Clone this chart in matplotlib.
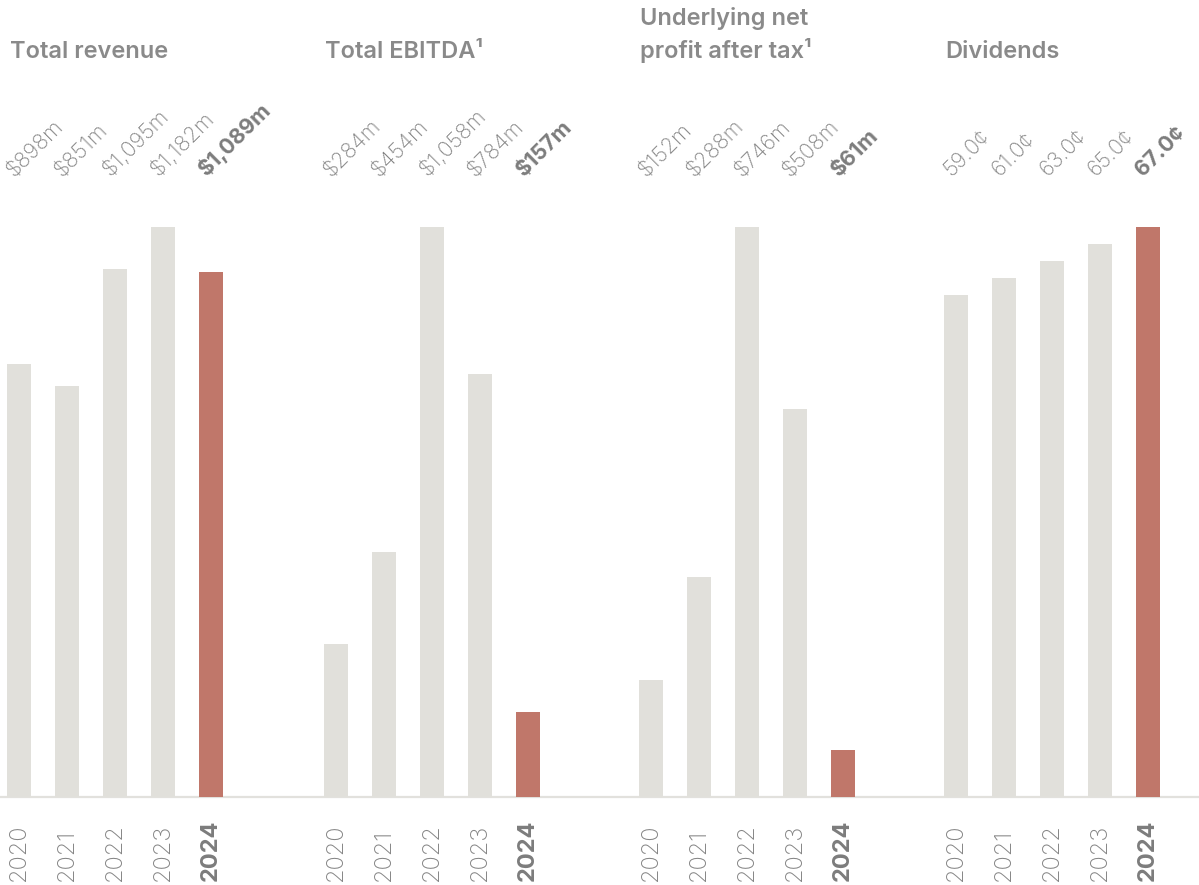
import matplotlib
matplotlib.use("Agg")
import matplotlib.pyplot as plt
from matplotlib.lines import Line2D
from matplotlib.transforms import blended_transform_factory

# data
years = ["2020", "2021", "2022", "2023", "2024"]

revenue = [898, 851, 1095, 1182, 1089]
ebitda = [284, 454, 1058, 784, 157]
npat = [152, 288, 746, 508, 61]
dividends = [59.0, 61.0, 63.0, 65.0, 67.0]

titles = [
    "Total revenue",
    "Total EBITDA¹",
    "Underlying net\nprofit after tax¹",
    "Dividends",
]

revenue_labels = ["$%sm" % f"{v:,}" for v in revenue]
ebitda_labels = ["$%sm" % f"{v:,}" for v in ebitda]
npat_labels = ["$%sm" % f"{v:,}" for v in npat]
dividend_labels = [f"{v:.1f}¢" for v in dividends]

# styling
grey_bar = "#e1e0db"
red_bar = "#c0776a"
text_grey = "#858585"
bold_grey = "#7c7c7c"
fonts = ["Inter", "DejaVu Sans"]

W, H = 1199, 885
fig = plt.figure(figsize=(W / 100, H / 100), dpi=100)
fig.patch.set_facecolor("white")

# baseline across the whole page
base_y = 1 - 796.5 / H
fig.add_artist(Line2D([0, 1], [base_y, base_y], transform=fig.transFigure,
                      color="#e2e1dd", lw=1.6, zorder=0))

panels = [
    (19, revenue, revenue_labels, titles[0], 10),
    (336, ebitda, ebitda_labels, titles[1], 325),
    (651, npat, npat_labels, titles[2], 640),
    (956, dividends, dividend_labels, titles[3], 945),
]

for c0, vals, labels, title, tx in panels:
    left = (c0 - 24) / W
    ax = fig.add_axes([left, (H - 796.5) / H, 240 / W, 569.5 / H])
    ax.set_xlim(-0.5, 4.5)
    ax.set_ylim(0, max(vals))
    ax.axis("off")

    colors = [grey_bar] * 4 + [red_bar]
    ax.bar(range(5), vals, width=0.5, color=colors, zorder=2)

    trans = blended_transform_factory(ax.transData, fig.transFigure)
    for i, lab in enumerate(labels):
        last = i == 4
        ax.text(i - 0.04, 1 - 180 / H, lab, transform=trans,
                rotation=45, rotation_mode="anchor", ha="left", va="bottom",
                fontsize=15.5, family=fonts,
                fontweight="bold" if last else "light",
                color=bold_grey if last else text_grey, clip_on=False)

    for i, yr in enumerate(years):
        last = i == 4
        ax.text(i, 1 - 881 / H, yr, transform=trans,
                rotation=90, ha="center", va="bottom",
                fontsize=17, family=fonts,
                fontweight="bold" if last else "light",
                color=bold_grey if last else text_grey, clip_on=False)

    fig.text(tx / W, 1 - 58 / H, title, ha="left", va="baseline",
             fontsize=17, family=fonts, fontweight="semibold",
             color="#8a8a8a", linespacing=1.4)

plt.savefig("out.png", dpi=100)
